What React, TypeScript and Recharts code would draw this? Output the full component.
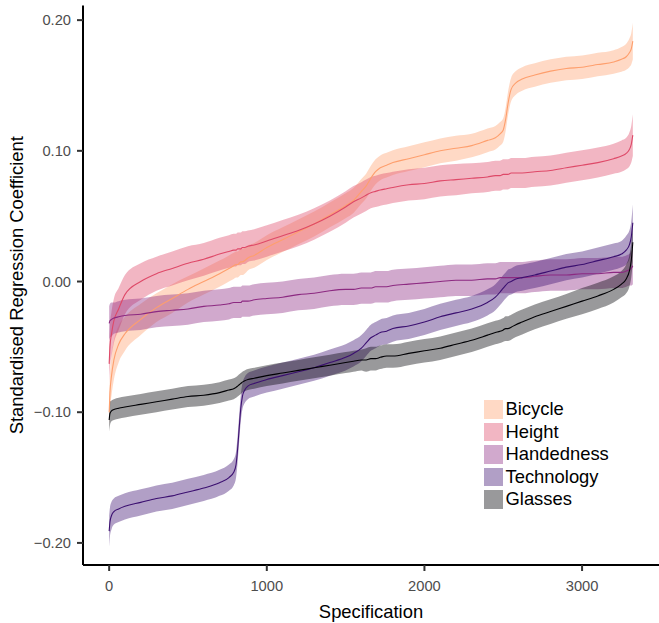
import React from "react";
import { ComposedChart, Area, Line, XAxis, YAxis, Label } from "recharts";

// specification index (shared grid for all outcomes)
const SPEC = [
  0, 5, 15, 30, 60, 100, 200, 300, 400, 500,
  600, 700, 760, 790, 805, 815, 825, 835, 845, 860,
  880, 920, 1000, 1100, 1200, 1300, 1400, 1500, 1550, 1600,
  1630, 1660, 1690, 1720, 1760, 1800, 1900, 2000, 2100, 2200,
  2300, 2400, 2450, 2480, 2500, 2515, 2530, 2550, 2580, 2620,
  2700, 2800, 2900, 3000, 3100, 3200, 3250, 3280, 3300, 3312,
  3322,
];

const BICYCLE = [
  -0.1, -0.085, -0.072, -0.06, -0.048, -0.04, -0.029, -0.02, -0.013, -0.006,
  0.0, 0.006, 0.01, 0.012, 0.013, 0.013, 0.014, 0.015, 0.015, 0.016,
  0.018, 0.02, 0.026, 0.032, 0.038, 0.044, 0.051, 0.058, 0.062, 0.069,
  0.073, 0.079, 0.084, 0.087, 0.089, 0.091, 0.094, 0.097, 0.1, 0.102,
  0.104, 0.108, 0.11, 0.113, 0.116, 0.124, 0.136, 0.147, 0.152, 0.155,
  0.158, 0.161, 0.163, 0.164, 0.166, 0.168, 0.17, 0.172, 0.175, 0.178,
  0.184,
];
const BICYCLE_HW = [
  0.01, 0.013, 0.015, 0.015, 0.014, 0.013, 0.012, 0.011, 0.011, 0.01,
  0.01, 0.01, 0.01, 0.01, 0.01, 0.01, 0.01, 0.01, 0.01, 0.01,
  0.0095, 0.0095, 0.0095, 0.0095, 0.0095, 0.0095, 0.0095, 0.0095, 0.0095, 0.0095,
  0.0095, 0.0095, 0.0095, 0.0095, 0.0095, 0.0095, 0.0095, 0.0095, 0.0095, 0.0095,
  0.009, 0.009, 0.009, 0.009, 0.009, 0.009, 0.009, 0.009, 0.009, 0.009,
  0.009, 0.009, 0.009, 0.009, 0.009, 0.009, 0.0095, 0.01, 0.011, 0.012,
  0.014,
];

const HEIGHT = [
  -0.063, -0.05, -0.04, -0.03, -0.021, -0.01, 0.0, 0.006, 0.01, 0.014,
  0.017, 0.021, 0.023, 0.024, 0.024, 0.025, 0.025, 0.025, 0.026, 0.026,
  0.027, 0.028, 0.031, 0.035, 0.039, 0.044, 0.05, 0.057, 0.061, 0.064,
  0.066, 0.068, 0.069, 0.07, 0.071, 0.072, 0.074, 0.075, 0.077, 0.078,
  0.079, 0.08, 0.081, 0.081, 0.082, 0.082, 0.082, 0.083, 0.083, 0.083,
  0.084, 0.085, 0.087, 0.089, 0.091, 0.094, 0.096, 0.098, 0.101, 0.105,
  0.112,
];
const HEIGHT_HW = [
  0.014, 0.016, 0.017, 0.017, 0.016, 0.015, 0.014, 0.013, 0.013, 0.013,
  0.0125, 0.0125, 0.0125, 0.0125, 0.0125, 0.0125, 0.0125, 0.0125, 0.0125, 0.0125,
  0.012, 0.012, 0.012, 0.012, 0.012, 0.012, 0.012, 0.012, 0.012, 0.012,
  0.012, 0.012, 0.012, 0.012, 0.012, 0.012, 0.012, 0.012, 0.012, 0.012,
  0.0115, 0.0115, 0.0115, 0.0115, 0.0115, 0.0115, 0.0115, 0.0115, 0.0115, 0.0115,
  0.0115, 0.0115, 0.0115, 0.0115, 0.0115, 0.0115, 0.012, 0.012, 0.013, 0.014,
  0.016,
];

const HANDEDNESS = [
  -0.032, -0.03, -0.029, -0.028, -0.027, -0.026, -0.025, -0.023, -0.022, -0.021,
  -0.019, -0.018, -0.017, -0.016, -0.016, -0.016, -0.016, -0.016, -0.015, -0.015,
  -0.015, -0.014, -0.013, -0.012, -0.01, -0.009, -0.007, -0.006, -0.006, -0.005,
  -0.005, -0.005, -0.004, -0.004, -0.004, -0.003, -0.002, -0.001, 0.0, 0.001,
  0.001, 0.002, 0.002, 0.003, 0.003, 0.003, 0.003, 0.003, 0.003, 0.003,
  0.004, 0.005, 0.005, 0.006, 0.006, 0.007, 0.007, 0.008, 0.009, 0.01,
  0.012,
];
const HANDEDNESS_HW = [
  0.013, 0.013, 0.013, 0.012, 0.012, 0.012, 0.012, 0.012, 0.012, 0.012,
  0.012, 0.012, 0.012, 0.012, 0.012, 0.012, 0.012, 0.012, 0.012, 0.012,
  0.012, 0.012, 0.012, 0.012, 0.012, 0.012, 0.012, 0.012, 0.012, 0.012,
  0.012, 0.012, 0.012, 0.012, 0.012, 0.012, 0.012, 0.012, 0.012, 0.012,
  0.012, 0.012, 0.012, 0.012, 0.012, 0.012, 0.012, 0.012, 0.012, 0.012,
  0.012, 0.012, 0.012, 0.012, 0.012, 0.012, 0.012, 0.012, 0.012, 0.013,
  0.014,
];

const TECHNOLOGY = [
  -0.191, -0.184, -0.179, -0.176, -0.174, -0.172, -0.169, -0.166, -0.164, -0.161,
  -0.158, -0.154, -0.15, -0.146, -0.14, -0.128, -0.112, -0.097, -0.088, -0.083,
  -0.08, -0.078, -0.075, -0.072, -0.069, -0.066, -0.062, -0.058, -0.055, -0.051,
  -0.047, -0.043, -0.041, -0.039, -0.038, -0.036, -0.034, -0.031, -0.027, -0.024,
  -0.021, -0.016, -0.012, -0.008, -0.005, -0.003, -0.001, 0.0, 0.002, 0.003,
  0.005, 0.008, 0.011, 0.013, 0.016, 0.019, 0.021, 0.024, 0.028, 0.034,
  0.045,
];
const TECHNOLOGY_HW = [
  0.012, 0.011, 0.0105, 0.01, 0.01, 0.01, 0.01, 0.01, 0.01, 0.01,
  0.01, 0.01, 0.01, 0.01, 0.01, 0.01, 0.01, 0.01, 0.01, 0.01,
  0.01, 0.01, 0.01, 0.01, 0.01, 0.01, 0.01, 0.01, 0.01, 0.01,
  0.01, 0.01, 0.01, 0.01, 0.01, 0.01, 0.01, 0.01, 0.01, 0.01,
  0.01, 0.01, 0.01, 0.01, 0.01, 0.01, 0.01, 0.01, 0.01, 0.01,
  0.01, 0.01, 0.01, 0.01, 0.01, 0.01, 0.01, 0.011, 0.011, 0.012,
  0.014,
];

const GLASSES = [
  -0.106, -0.101, -0.099, -0.098, -0.097, -0.096, -0.094, -0.092, -0.09, -0.088,
  -0.087, -0.085, -0.083, -0.082, -0.081, -0.08, -0.079, -0.078, -0.077, -0.076,
  -0.075, -0.074, -0.072, -0.07, -0.068, -0.066, -0.064, -0.062, -0.061, -0.06,
  -0.06, -0.059, -0.059, -0.058, -0.057, -0.057, -0.055, -0.053, -0.051, -0.048,
  -0.045, -0.041, -0.039, -0.038, -0.037, -0.036, -0.036, -0.035, -0.033, -0.031,
  -0.027, -0.023, -0.019, -0.015, -0.011, -0.006, -0.002, 0.002, 0.008, 0.016,
  0.03,
];
const GLASSES_HW = [
  0.009, 0.009, 0.008, 0.008, 0.008, 0.008, 0.008, 0.008, 0.008, 0.008,
  0.008, 0.008, 0.008, 0.008, 0.008, 0.008, 0.008, 0.008, 0.008, 0.008,
  0.008, 0.008, 0.008, 0.008, 0.008, 0.008, 0.008, 0.008, 0.008, 0.008,
  0.009, 0.009, 0.009, 0.009, 0.009, 0.009, 0.009, 0.009, 0.009, 0.009,
  0.009, 0.009, 0.009, 0.009, 0.009, 0.0095, 0.0095, 0.0095, 0.0095, 0.0095,
  0.0095, 0.0095, 0.0095, 0.01, 0.01, 0.01, 0.01, 0.011, 0.012, 0.013,
  0.015,
];

const X_TICKS = [0, 1000, 2000, 3000];
const Y_TICKS = [-0.2, -0.1, 0, 0.1, 0.2];

const SERIES = [
  { key: "bicycle", name: "Bicycle", color: "#FE9F6D", mid: BICYCLE, hw: BICYCLE_HW },
  { key: "height", name: "Height", color: "#DE4968", mid: HEIGHT, hw: HEIGHT_HW },
  { key: "handedness", name: "Handedness", color: "#8C2981", mid: HANDEDNESS, hw: HANDEDNESS_HW },
  { key: "technology", name: "Technology", color: "#3B0F70", mid: TECHNOLOGY, hw: TECHNOLOGY_HW },
  { key: "glasses", name: "Glasses", color: "#000004", mid: GLASSES, hw: GLASSES_HW },
];

const rows = SPEC.map((s, i) => {
  const row: Record<string, any> = { spec: s };
  SERIES.forEach((se) => {
    row[se.key] = se.mid[i];
    row[se.key + "Band"] = [se.mid[i] - se.hw[i], se.mid[i] + se.hw[i]];
  });
  return row;
});

const FONT = '"Liberation Sans", Arial, Helvetica, sans-serif';

const fmtY = (v: number) => {
  const s = Math.abs(v).toFixed(2);
  return v < 0 ? "\u2212" + s : s;
};

const YTitle = (props: any) => {
  const vb = props.viewBox || { x: 0, y: 0, height: 0 };
  const x = vb.x + 22.5;
  const y = vb.y + vb.height / 2;
  return (
    <text
      x={x}
      y={y}
      transform={`rotate(-90 ${x} ${y})`}
      textAnchor="middle"
      fontSize={18.4}
      fontFamily={FONT}
      fill="#000"
    >
      Standardised Regression Coefficient
    </text>
  );
};

export default function App() {
  return (
    <div style={{ position: "absolute", left: 0, top: 0, width: 659, height: 623, background: "#fff" }}>
      <ComposedChart
        width={659}
        height={623}
        data={rows}
        margin={{ top: 5.5, right: 0, bottom: 0, left: 0 }}
      >
        <XAxis
          type="number"
          dataKey="spec"
          domain={[-166, 3488]}
          ticks={X_TICKS}
          allowDataOverflow
          height={58}
          tickSize={6}
          tickMargin={10}
          axisLine={{ stroke: "#000", strokeWidth: 2 }}
          tickLine={{ stroke: "#333", strokeWidth: 2 }}
          tick={{ fill: "#4D4D4D", fontSize: 14.7, fontFamily: FONT }}
        >
          <Label
            value="Specification"
            position="insideBottom"
            offset={5}
            style={{ fontSize: 18.4, fontFamily: FONT, fill: "#000" }}
          />
        </XAxis>
        <YAxis
          type="number"
          domain={[-0.2169, 0.2112]}
          ticks={Y_TICKS}
          allowDataOverflow
          width={83}
          tickSize={6}
          tickMargin={6}
          tickFormatter={fmtY}
          axisLine={{ stroke: "#000", strokeWidth: 2 }}
          tickLine={{ stroke: "#333", strokeWidth: 2 }}
          tick={{ fill: "#4D4D4D", fontSize: 14.7, fontFamily: FONT }}
        >
          <Label content={<YTitle />} />
        </YAxis>

        {SERIES.map((se) => (
          <Area
            key={se.key + "-band"}
            type="monotone"
            dataKey={se.key + "Band"}
            stroke="none"
            fill={se.color}
            fillOpacity={0.4}
            dot={false}
            activeDot={false}
            isAnimationActive={false}
          />
        ))}
        {SERIES.map((se) => (
          <Line
            key={se.key + "-line"}
            type="monotone"
            dataKey={se.key}
            stroke={se.color}
            strokeWidth={1.1}
            dot={false}
            activeDot={false}
            isAnimationActive={false}
          />
        ))}
      </ComposedChart>

      <div
        style={{
          position: "absolute",
          left: 484,
          top: 398,
          fontFamily: FONT,
          fontSize: 18.4,
          color: "#000",
        }}
      >
        {SERIES.map((se) => (
          <div key={se.key} style={{ display: "flex", alignItems: "center", height: 22.6 }}>
            <div
              style={{
                width: 18.5,
                height: 18.5,
                background: se.color,
                opacity: 0.4,
                marginRight: 3,
              }}
            />
            <span style={{ lineHeight: "22.6px" }}>{se.name}</span>
          </div>
        ))}
      </div>
    </div>
  );
}
